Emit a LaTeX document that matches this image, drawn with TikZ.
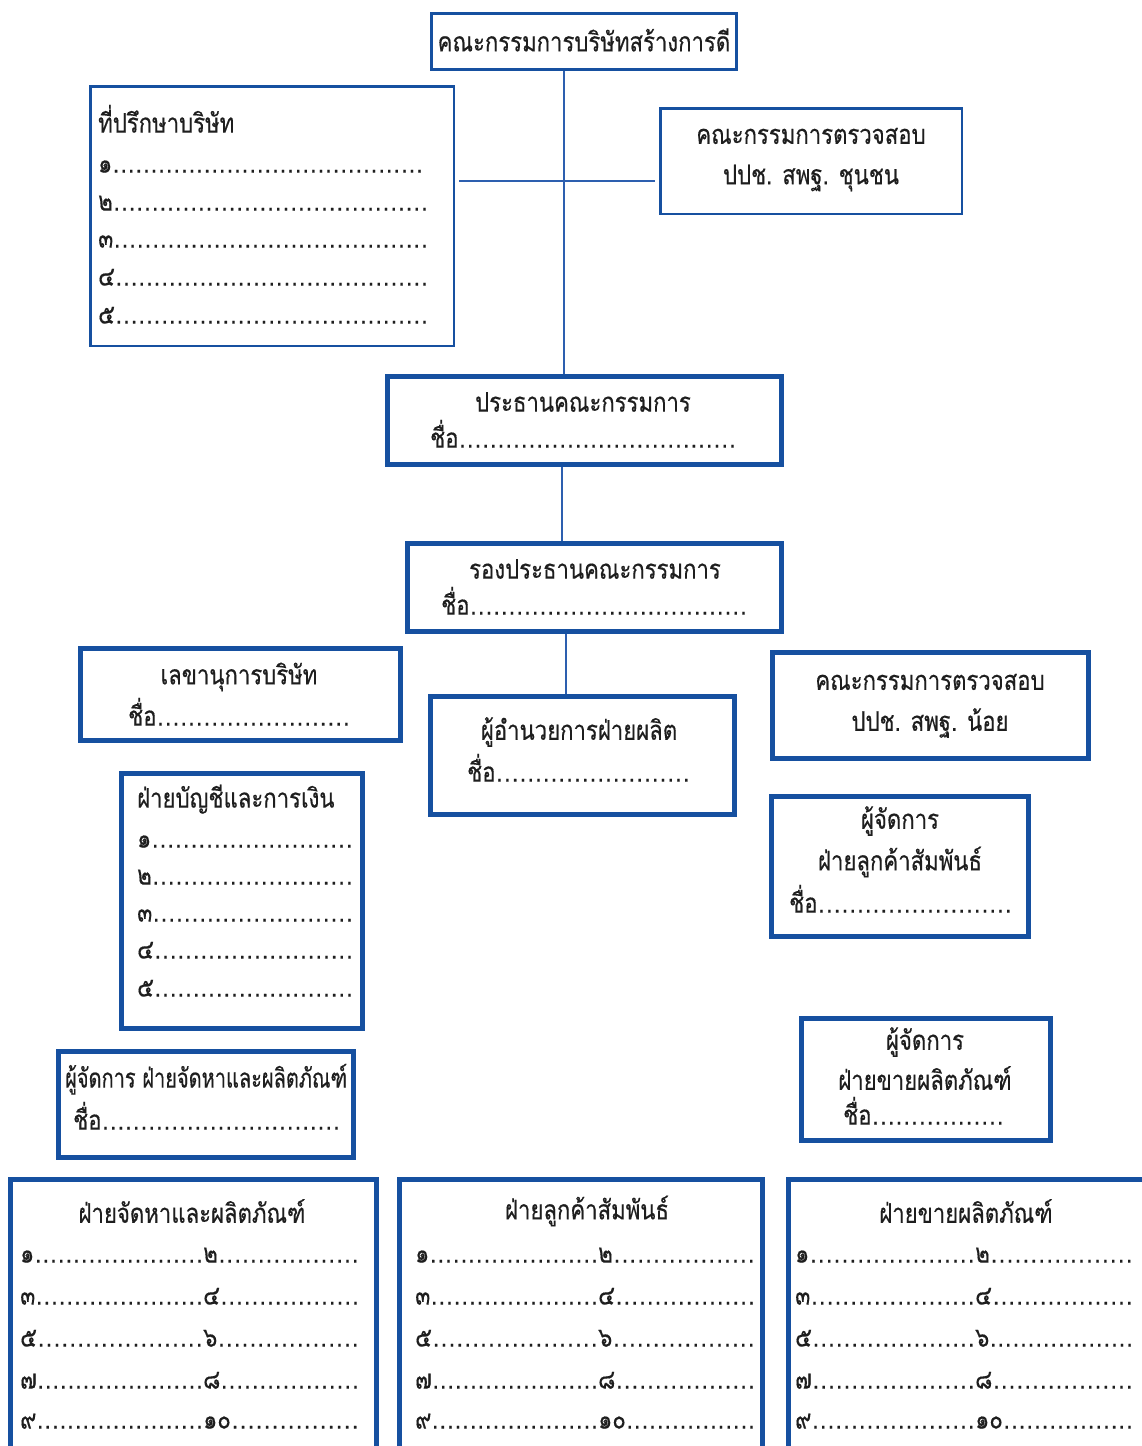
\documentclass[tikz,border=0pt]{standalone}
\usepackage{fontspec}
\setmainfont[Script=Thai, FakeStretch=0.82, FakeBold=0.4]{Loma}
\newfontfamily\narrowthai[Script=Thai, FakeStretch=0.74, FakeBold=0.4]{Loma}
\definecolor{bblue}{RGB}{22,80,160}
\definecolor{lblue}{RGB}{45,95,175}
\definecolor{txt}{RGB}{30,30,30}
\newcommand\mydots{\xleaders\hbox to 0.28em{\hss.\hss}\hfill}
\newcommand\dl[2]{\makebox[#1pt][l]{#2\mydots}}
\begin{document}
\begin{tikzpicture}[x=1pt,y=-1pt,
  thinbox/.style={draw=bblue, line width=2.5pt, inner sep=0pt},
  thickbox/.style={draw=bblue, line width=5pt, inner sep=0pt},
  lbl/.style={text=txt, inner sep=0pt, font=\fontsize{27}{31}\selectfont},
  conn/.style={draw=lblue, line width=1.5pt}]
\useasboundingbox[fill=white] (0,0) rectangle (1142,1446);

% boxes
\node[thinbox, line width=3pt, minimum width=305pt, minimum height=56pt] (top) at (584,41.5) {};
\node[thinbox, minimum width=363.5pt, minimum height=259.5pt] (adv) at (272,216) {};
\node[thinbox, minimum width=301.5pt, minimum height=105.5pt] (aud1) at (811,161) {};
\node[thickbox, minimum width=394pt, minimum height=88pt] (pres) at (584.5,420.5) {};
\node[thickbox, minimum width=374pt, minimum height=88pt] (vp) at (594.5,587.5) {};
\node[thickbox, minimum width=320pt, minimum height=92pt] (sec) at (240.5,694.5) {};
\node[thickbox, minimum width=304pt, minimum height=118pt] (dir) at (582.5,755.5) {};
\node[thickbox, minimum width=316pt, minimum height=106pt] (aud2) at (930.5,705.5) {};
\node[thickbox, minimum width=257pt, minimum height=140pt] (crm) at (900,866.5) {};
\node[thickbox, minimum width=241pt, minimum height=255pt] (acc) at (242,901) {};
\node[thickbox, minimum width=295pt, minimum height=106pt] (pmg) at (206,1104.5) {};
\node[thickbox, minimum width=249pt, minimum height=122pt] (smg) at (926,1079.5) {};
\node[thickbox, minimum width=366pt, minimum height=278pt] (d1) at (193.5,1318.5) {};
\node[thickbox, minimum width=363pt, minimum height=278pt] (d2) at (581,1318.5) {};
\node[thickbox, minimum width=359pt, minimum height=278pt] (d3) at (968,1318.5) {};

% connectors
\coordinate (j1) at (564,181);
\coordinate (j2) at (562,500);
\coordinate (j3) at (566,660);
\draw[conn] (top.south -| j1) -- (pres.north -| j1);
\draw[conn, shorten <=4pt, shorten >=4pt] (adv.east |- j1) -- (aud1.west |- j1);
\draw[conn] (pres.south -| j2) -- (vp.north -| j2);
\draw[conn] (vp.south -| j3) -- (dir.north -| j3);

% texts
\node[lbl] (tTop) at (584,40) {คณะกรรมการบริษัทสร้างการดี};

\node[lbl, anchor=mid west] (tAdv) at (98,130) {ที่ปรึกษาบริษัท};
\node[lbl, anchor=mid west] (a1) at (98,170) {\dl{325}{๑}};
\node[lbl, anchor=mid west] (a2) at (98,208) {\dl{330}{๒}};
\node[lbl, anchor=mid west] (a3) at (98,245) {\dl{330}{๓}};
\node[lbl, anchor=mid west] (a4) at (98,283) {\dl{330}{๔}};
\node[lbl, anchor=mid west] (a5) at (98,321) {\dl{330}{๕}};

\node[lbl] (tAud1a) at (811,136) {คณะกรรมการตรวจสอบ};
\node[lbl] (tAud1b) at (811,178) {ปปช. สพฐ. ชุนชน};

\node[lbl] (tPres) at (583,402) {ประธานคณะกรรมการ};
\node[lbl, anchor=mid west] (nPres) at (430,445) {\dl{306}{ชื่อ}};

\node[lbl] (tVp) at (595,569) {รองประธานคณะกรรมการ};
\node[lbl, anchor=mid west] (nVp) at (441,612) {\dl{306}{ชื่อ}};

\node[lbl] (tSec) at (239,677) {เลขานุการบริษัท};
\node[lbl, anchor=mid west] (nSec) at (128,723) {\dl{222}{ชื่อ}};

\node[lbl] (tDir) at (579,732) {ผู้อำนวยการฝ่ายผลิต};
\node[lbl, anchor=mid west] (nDir) at (467,779) {\dl{223}{ชื่อ}};

\node[lbl] (tAud2a) at (930,682) {คณะกรรมการตรวจสอบ};
\node[lbl] (tAud2b) at (930,723) {ปปช. สพฐ. น้อย};

\node[lbl] (tCrmA) at (900,821) {ผู้จัดการ};
\node[lbl] (tCrmB) at (900,862) {ฝ่ายลูกค้าสัมพันธ์};
\node[lbl, anchor=mid west] (nCrm) at (789,910) {\dl{223}{ชื่อ}};

\node[lbl, anchor=mid west] (tAcc) at (137,805) {ฝ่ายบัญชีและการเงิน};
\node[lbl, anchor=mid west] (c1) at (137,845) {\dl{216}{๑}};
\node[lbl, anchor=mid west] (c2) at (137,882) {\dl{216}{๒}};
\node[lbl, anchor=mid west] (c3) at (137,919) {\dl{216}{๓}};
\node[lbl, anchor=mid west] (c4) at (137,956) {\dl{216}{๔}};
\node[lbl, anchor=mid west] (c5) at (137,994) {\dl{216}{๕}};

\node[lbl, anchor=mid west, font=\narrowthai\fontsize{27}{31}\selectfont] (tPmg) at (65,1085) {ผู้จัดการ ฝ่ายจัดหาและผลิตภัณฑ์};
\node[lbl, anchor=mid west] (nPmg) at (73,1127) {\dl{267}{ชื่อ}};

\node[lbl] (tSmgA) at (925,1042) {ผู้จัดการ};
\node[lbl] (tSmgB) at (925,1078) {ฝ่ายขายผลิตภัณฑ์};
\node[lbl, anchor=mid west] (nSmg) at (843,1122) {\dl{161}{ชื่อ}};

% bottom departments
\node[lbl] (tD1) at (192,1211) {ฝ่ายจัดหาและผลิตภัณฑ์};
\node[lbl] (tD2) at (587,1211) {ฝ่ายลูกค้าสัมพันธ์};
\node[lbl] (tD3) at (966,1211) {ฝ่ายขายผลิตภัณฑ์};

\foreach \bx/\mw/\rw [count=\k] in {20/183/156, 415/183/157, 795/180/158} {
  \node[lbl, anchor=mid west] (r\k a) at (\bx,1260) {\dl{\mw}{๑}\dl{\rw}{๒}};
  \node[lbl, anchor=mid west] (r\k b) at (\bx,1302) {\dl{\mw}{๓}\dl{\rw}{๔}};
  \node[lbl, anchor=mid west] (r\k c) at (\bx,1344) {\dl{\mw}{๕}\dl{\rw}{๖}};
  \node[lbl, anchor=mid west] (r\k d) at (\bx,1386) {\dl{\mw}{๗}\dl{\rw}{๘}};
  \node[lbl, anchor=mid west] (r\k e) at (\bx,1426) {\dl{\mw}{๙}\dl{\rw}{๑๐}};
}
\end{tikzpicture}
\end{document}
